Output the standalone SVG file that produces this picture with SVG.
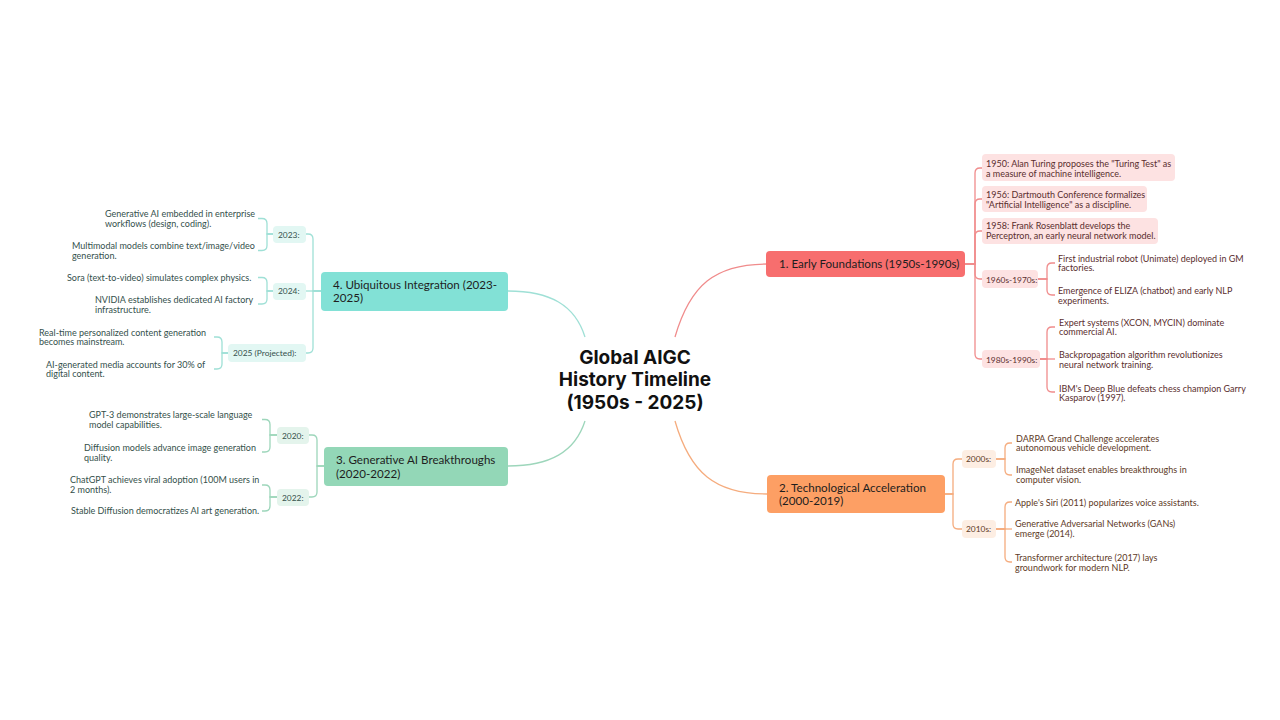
<svg xmlns="http://www.w3.org/2000/svg" width="1280" height="720" viewBox="0 0 1280 720">
<style>
.t{font-family:Lato,"Liberation Sans",sans-serif;font-size:9px}
.p{font-size:8.4px}
.tr{fill:#5a2e2e}.to{fill:#5e3a26}.tt{fill:#34504c}.tg{fill:#34504a}
.h{font-family:Lato,"Liberation Sans",sans-serif;font-size:11.6px;fill:#1e1e1e}
.title{font-family:Inter,"Liberation Sans",sans-serif;font-size:19px;font-weight:700;fill:#111;text-anchor:middle}
.c{fill:none;stroke-width:1.3}
.cr{stroke:#f08c8c}.co{stroke:#f5ac7e}.ct{stroke:#9fe0d6}.cg{stroke:#9dd6bb}
.pr{fill:#fde2e2}.po{fill:#fdeee3}.pt{fill:#e2f7f3}.pg{fill:#e4f4ec}
</style>
<rect width="1280" height="720" fill="#ffffff"/>
<g id="connectors">
<path class="c cr" d="M675,337 C690,285 715,264 767,264"/>
<path class="c co" d="M675,421 C690,473 715,494 767,494"/>
<path class="c ct" d="M585,337 C575,305 550,291 508,291"/>
<path class="c cg" d="M585,421 C575,452 550,466 508,466"/>
<g class="c cr">
<path d="M965,264 H975 V173 Q975,168 980,168 H982"/>
<path d="M965,264 H975 V204 Q975,199 980,199 H982"/>
<path d="M965,264 H975 V236 Q975,231 980,231 H982"/>
<path d="M965,264 H975 V274 Q975,279 980,279 H982"/>
<path d="M965,264 H975 V354 Q975,359 980,359 H982"/>
<path d="M1038,279 H1047 V268 Q1047,263 1052,263 H1055"/>
<path d="M1038,279 H1047 V290 Q1047,295 1052,295 H1055"/>
<path d="M1040,359 H1047 V332 Q1047,327 1052,327 H1055"/>
<path d="M1040,359 H1055"/>
<path d="M1040,359 H1047 V387 Q1047,392 1052,392 H1055"/>
</g>
<g class="c co">
<path d="M945,494 H953 V464 Q953,459 958,459 H962"/>
<path d="M945,494 H953 V524 Q953,529 958,529 H962"/>
<path d="M996,459 H1005 V448 Q1005,443 1010,443 H1012"/>
<path d="M996,459 H1005 V470 Q1005,475 1010,475 H1012"/>
<path d="M996,529 H1005 V507 Q1005,502 1010,502 H1012"/>
<path d="M996,529 H1012"/>
<path d="M996,529 H1005 V557 Q1005,562 1010,562 H1012"/>
</g>
<g class="c ct">
<path d="M321,291 H313 V239 Q313,234 308,234 H306"/>
<path d="M321,291 H306"/>
<path d="M321,291 H313 V348 Q313,353 308,353 H306"/>
<path d="M273,234 H267 V223.5 Q267,218.5 262,218.5 H258"/>
<path d="M273,234 H267 V245.5 Q267,250.5 262,250.5 H258"/>
<path d="M273,291 H267 V282.5 Q267,277.5 262,277.5 H258"/>
<path d="M273,291 H267 V299 Q267,304 262,304 H258"/>
<path d="M228,353 H222 V342 Q222,337 217,337 H214"/>
<path d="M228,353 H222 V364 Q222,369 217,369 H214"/>
</g>
<g class="c cg">
<path d="M324,466 H317 V440 Q317,435 312,435 H309"/>
<path d="M324,466 H317 V492 Q317,497 312,497 H309"/>
<path d="M277,435 H270 V424.5 Q270,419.5 265,419.5 H262"/>
<path d="M277,435 H270 V447 Q270,452 265,452 H262"/>
<path d="M277,497 H270 V490 Q270,485 265,485 H262"/>
<path d="M277,497 H270 V506 Q270,511 265,511 H262"/>
</g>
</g>
<g id="root">
<text class="title" x="635" y="364">Global AIGC</text>
<text class="title" x="635" y="386">History Timeline</text>
<text class="title" x="635" y="408.5">(1950s - 2025)</text>
</g>
<g id="n1">
<rect x="766" y="251" width="199" height="26" rx="4" fill="#f76e6e"/>
<text class="h" x="779" y="268">1. Early Foundations (1950s-1990s)</text>
</g>
<g id="n1-1950">
<rect class="pr" x="982" y="154" width="193" height="27" rx="4"/>
<text class="t tr" x="986" y="166.5">1950: Alan Turing proposes the "Turing Test" as</text>
<text class="t tr" x="986" y="176.5">a measure of machine intelligence.</text>
</g>
<g id="n1-1956">
<rect class="pr" x="982" y="186" width="165" height="26" rx="4"/>
<text class="t tr" x="986" y="197.5">1956: Dartmouth Conference formalizes</text>
<text class="t tr" x="986" y="207.5">"Artificial Intelligence" as a discipline.</text>
</g>
<g id="n1-1958">
<rect class="pr" x="982" y="218" width="176" height="26" rx="4"/>
<text class="t tr" x="986" y="229">1958: Frank Rosenblatt develops the</text>
<text class="t tr" x="986" y="239">Perceptron, an early neural network model.</text>
</g>
<g id="n1-1960s">
<rect class="pr" x="982" y="270" width="56" height="18" rx="4"/>
<text class="t p tr" x="986" y="282.5">1960s-1970s:</text>
</g>
<g id="n1-unimate">
<text class="t tr" x="1058" y="261.5">First industrial robot (Unimate) deployed in GM</text>
<text class="t tr" x="1058" y="271">factories.</text>
</g>
<g id="n1-eliza">
<text class="t tr" x="1058" y="294">Emergence of ELIZA (chatbot) and early NLP</text>
<text class="t tr" x="1058" y="303.5">experiments.</text>
</g>
<g id="n1-1980s">
<rect class="pr" x="982" y="350" width="58" height="18" rx="4"/>
<text class="t p tr" x="986" y="362.5">1980s-1990s:</text>
</g>
<g id="n1-expert">
<text class="t tr" x="1059" y="325.5">Expert systems (XCON, MYCIN) dominate</text>
<text class="t tr" x="1059" y="335">commercial AI.</text>
</g>
<g id="n1-backprop">
<text class="t tr" x="1059" y="358">Backpropagation algorithm revolutionizes</text>
<text class="t tr" x="1059" y="367.5">neural network training.</text>
</g>
<g id="n1-deepblue">
<text class="t tr" x="1059" y="391.5">IBM's Deep Blue defeats chess champion Garry</text>
<text class="t tr" x="1059" y="401">Kasparov (1997).</text>
</g>
<g id="n2">
<rect x="767" y="475" width="178" height="38" rx="4" fill="#fd9f64"/>
<text class="h" x="779" y="492">2. Technological Acceleration</text>
<text class="h" x="779" y="505">(2000-2019)</text>
</g>
<g id="n2-2000s">
<rect class="po" x="962" y="450" width="34" height="18" rx="4"/>
<text class="t p to" x="966" y="462">2000s:</text>
</g>
<g id="n2-darpa">
<text class="t to" x="1016" y="441.5">DARPA Grand Challenge accelerates</text>
<text class="t to" x="1016" y="451">autonomous vehicle development.</text>
</g>
<g id="n2-imagenet">
<text class="t to" x="1016" y="473">ImageNet dataset enables breakthroughs in</text>
<text class="t to" x="1016" y="482.5">computer vision.</text>
</g>
<g id="n2-2010s">
<rect class="po" x="962" y="520" width="34" height="18" rx="4"/>
<text class="t p to" x="966" y="532">2010s:</text>
</g>
<g id="n2-siri">
<text class="t to" x="1015" y="505.5">Apple's Siri (2011) popularizes voice assistants.</text>
</g>
<g id="n2-gan">
<text class="t to" x="1015" y="527">Generative Adversarial Networks (GANs)</text>
<text class="t to" x="1015" y="536.5">emerge (2014).</text>
</g>
<g id="n2-transformer">
<text class="t to" x="1015" y="560.5">Transformer architecture (2017) lays</text>
<text class="t to" x="1015" y="570.5">groundwork for modern NLP.</text>
</g>
<g id="n4">
<rect x="321" y="272" width="187" height="39" rx="4" fill="#82e1d6"/>
<text class="h" x="333" y="288.5">4. Ubiquitous Integration (2023-</text>
<text class="h" x="333" y="302">2025)</text>
</g>
<g id="n4-2023">
<rect class="pt" x="273" y="226" width="33" height="17" rx="4"/>
<text class="t p tt" x="278" y="237.5">2023:</text>
</g>
<g id="n4-enterprise">
<text class="t tt" x="105" y="216.5">Generative AI embedded in enterprise</text>
<text class="t tt" x="105" y="227">workflows (design, coding).</text>
</g>
<g id="n4-multimodal">
<text class="t tt" x="72" y="249">Multimodal models combine text/image/video</text>
<text class="t tt" x="72" y="259">generation.</text>
</g>
<g id="n4-2024">
<rect class="pt" x="273" y="283" width="33" height="17" rx="4"/>
<text class="t p tt" x="278" y="294">2024:</text>
</g>
<g id="n4-sora">
<text class="t tt" x="67" y="280.5">Sora (text-to-video) simulates complex physics.</text>
</g>
<g id="n4-nvidia">
<text class="t tt" x="95" y="303">NVIDIA establishes dedicated AI factory</text>
<text class="t tt" x="95" y="313">infrastructure.</text>
</g>
<g id="n4-2025">
<rect class="pt" x="228" y="344" width="78" height="18" rx="4"/>
<text class="t p tt" x="233" y="356">2025 (Projected):</text>
</g>
<g id="n4-realtime">
<text class="t tt" x="39" y="335.5">Real-time personalized content generation</text>
<text class="t tt" x="39" y="345">becomes mainstream.</text>
</g>
<g id="n4-media">
<text class="t tt" x="46" y="367.5">AI-generated media accounts for 30% of</text>
<text class="t tt" x="46" y="377">digital content.</text>
</g>
<g id="n3">
<rect x="324" y="447" width="184" height="39" rx="4" fill="#93d7b7"/>
<text class="h" x="336" y="464">3. Generative AI Breakthroughs</text>
<text class="h" x="336" y="477.5">(2020-2022)</text>
</g>
<g id="n3-2020">
<rect class="pg" x="277" y="427" width="32" height="17" rx="4"/>
<text class="t p tg" x="282" y="438.5">2020:</text>
</g>
<g id="n3-gpt3">
<text class="t tg" x="89" y="418">GPT-3 demonstrates large-scale language</text>
<text class="t tg" x="89" y="427.5">model capabilities.</text>
</g>
<g id="n3-diffusion">
<text class="t tg" x="84" y="450.5">Diffusion models advance image generation</text>
<text class="t tg" x="84" y="460.5">quality.</text>
</g>
<g id="n3-2022">
<rect class="pg" x="277" y="489" width="32" height="17" rx="4"/>
<text class="t p tg" x="282" y="500.5">2022:</text>
</g>
<g id="n3-chatgpt">
<text class="t tg" x="70" y="483">ChatGPT achieves viral adoption (100M users in</text>
<text class="t tg" x="70" y="493">2 months).</text>
</g>
<g id="n3-stable">
<text class="t tg" x="71" y="514">Stable Diffusion democratizes AI art generation.</text>
</g>
</svg>
